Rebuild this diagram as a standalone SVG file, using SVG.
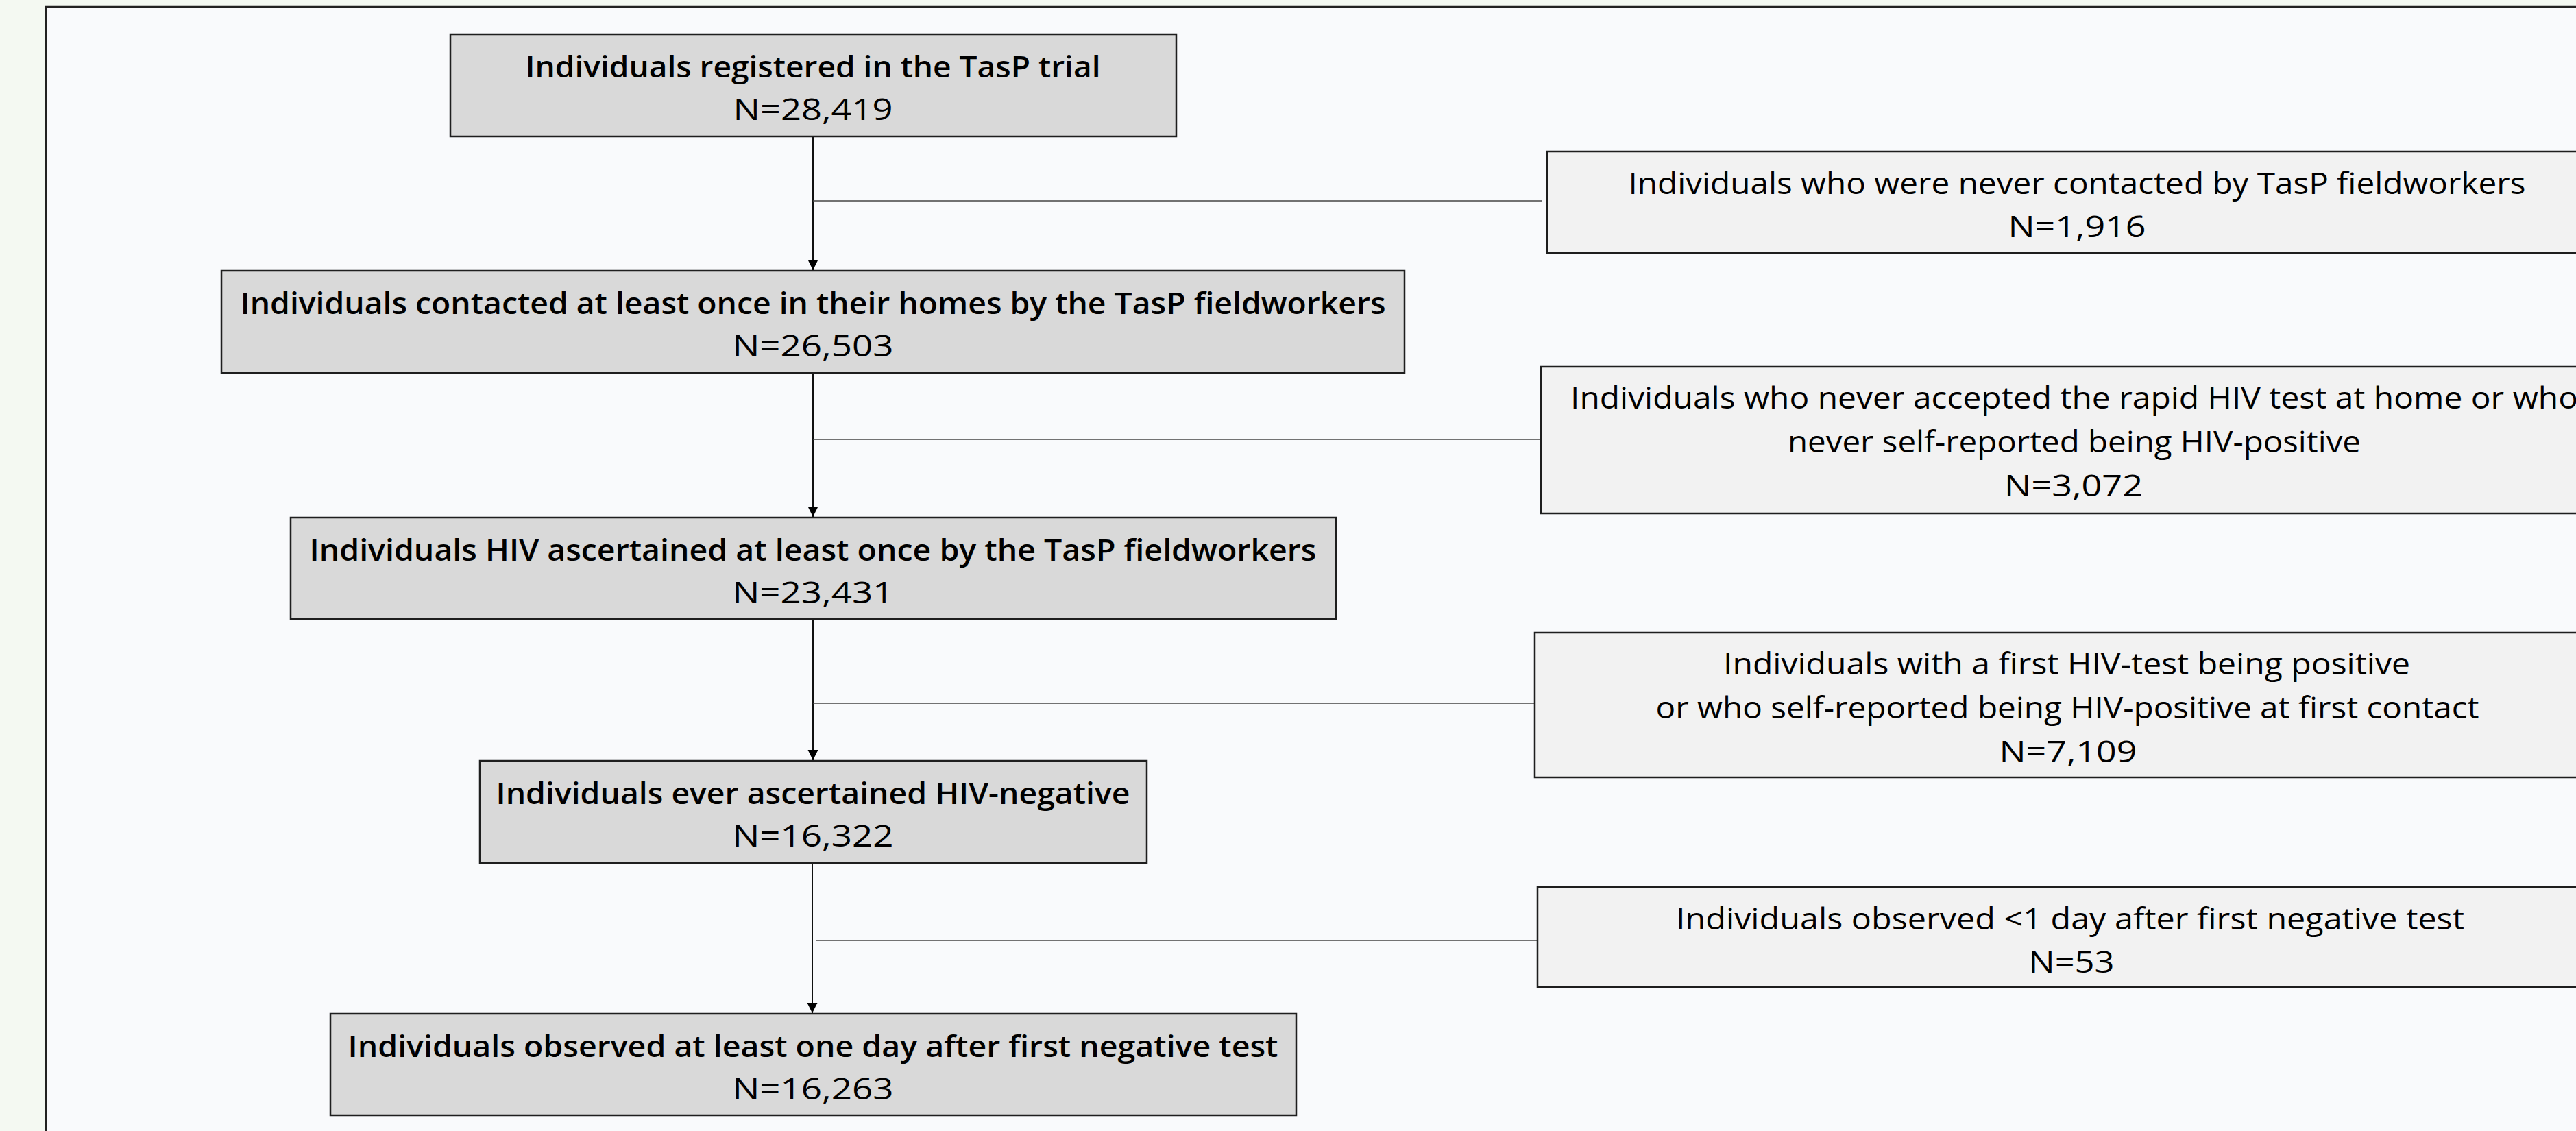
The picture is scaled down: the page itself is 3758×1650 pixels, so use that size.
<svg xmlns="http://www.w3.org/2000/svg" width="3758" height="1650" viewBox="0 0 3758 1650">
<style>
.main{fill:#d9d9d9;stroke:#1e1e1e;stroke-width:2.5}
.side{fill:#f2f2f2;stroke:#1e1e1e;stroke-width:2.5}
.tm{font-family:"Open Sans","DejaVu Sans",sans-serif;font-size:43px;font-weight:600;fill:#000;text-anchor:middle}
.ts{font-family:"Open Sans","DejaVu Sans",sans-serif;font-size:43px;font-weight:400;fill:#000;text-anchor:middle}
.v{stroke:#111;stroke-width:2;fill:none}
.h{stroke:#444;stroke-width:1.6;fill:none}
</style>
<defs>
<marker id="arr" markerUnits="userSpaceOnUse" markerWidth="16" markerHeight="16" refX="15" refY="7.5" orient="auto">
<path d="M0,0 L15,7.5 L0,15 z" fill="#000"/>
</marker>
</defs>
<rect x="0" y="0" width="3758" height="1650" fill="#f4f9f2"/>
<rect x="67" y="10" width="3760" height="1700" fill="#f9fafc" stroke="#222" stroke-width="2.5"/>

<g id="connectors">
<line class="v" x1="1186" y1="199" x2="1186" y2="394" marker-end="url(#arr)"/>
<line class="v" x1="1186" y1="544" x2="1186" y2="754" marker-end="url(#arr)"/>
<line class="v" x1="1186" y1="903" x2="1186" y2="1109" marker-end="url(#arr)"/>
<line class="v" x1="1185" y1="1259" x2="1185" y2="1478" marker-end="url(#arr)"/>
<line class="h" x1="1186" y1="293" x2="2249" y2="293"/>
<line class="h" x1="1186" y1="641" x2="2248" y2="641"/>
<line class="h" x1="1186" y1="1026" x2="2239" y2="1026"/>
<line class="h" x1="1191" y1="1372" x2="2243" y2="1372"/>
</g>

<g id="n1">
<rect class="main" x="657" y="50" width="1059" height="149"/>
<text class="tm" x="1186" y="113" textLength="839" lengthAdjust="spacingAndGlyphs">Individuals registered in the TasP trial</text>
<text class="ts" x="1186" y="175" textLength="233" lengthAdjust="spacingAndGlyphs">N=28,419</text>
</g>
<g id="n2">
<rect class="main" x="323" y="395" width="1726" height="149"/>
<text class="tm" x="1186" y="458" textLength="1671" lengthAdjust="spacingAndGlyphs">Individuals contacted at least once in their homes by the TasP fieldworkers</text>
<text class="ts" x="1186" y="520" textLength="235" lengthAdjust="spacingAndGlyphs">N=26,503</text>
</g>
<g id="n3">
<rect class="main" x="424" y="755" width="1525" height="148"/>
<text class="tm" x="1186" y="818" textLength="1469" lengthAdjust="spacingAndGlyphs">Individuals HIV ascertained at least once by the TasP fieldworkers</text>
<text class="ts" x="1186" y="880" textLength="235" lengthAdjust="spacingAndGlyphs">N=23,431</text>
</g>
<g id="n4">
<rect class="main" x="700" y="1110" width="973" height="149"/>
<text class="tm" x="1186" y="1173" textLength="925" lengthAdjust="spacingAndGlyphs">Individuals ever ascertained HIV-negative</text>
<text class="ts" x="1186" y="1235" textLength="235" lengthAdjust="spacingAndGlyphs">N=16,322</text>
</g>
<g id="n5">
<rect class="main" x="482" y="1479" width="1409" height="148"/>
<text class="tm" x="1186" y="1542" textLength="1357" lengthAdjust="spacingAndGlyphs">Individuals observed at least one day after first negative test</text>
<text class="ts" x="1186" y="1604" textLength="235" lengthAdjust="spacingAndGlyphs">N=16,263</text>
</g>

<g id="r1">
<rect class="side" x="2257" y="221" width="1546" height="148"/>
<text class="ts" x="3030" y="283" textLength="1309" lengthAdjust="spacingAndGlyphs">Individuals who were never contacted by TasP fieldworkers</text>
<text class="ts" x="3030" y="346" textLength="201" lengthAdjust="spacingAndGlyphs">N=1,916</text>
</g>
<g id="r2">
<rect class="side" x="2248" y="535" width="1556" height="214"/>
<text class="ts" x="3026" y="596" textLength="1470" lengthAdjust="spacingAndGlyphs">Individuals who never accepted the rapid HIV test at home or who</text>
<text class="ts" x="3026" y="660" textLength="836" lengthAdjust="spacingAndGlyphs">never self-reported being HIV-positive</text>
<text class="ts" x="3025" y="724" textLength="202" lengthAdjust="spacingAndGlyphs">N=3,072</text>
</g>
<g id="r3">
<rect class="side" x="2239" y="923" width="1554" height="211"/>
<text class="ts" x="3015" y="984" textLength="1002" lengthAdjust="spacingAndGlyphs">Individuals with a first HIV-test being positive</text>
<text class="ts" x="3016" y="1048" textLength="1201" lengthAdjust="spacingAndGlyphs">or who self-reported being HIV-positive at first contact</text>
<text class="ts" x="3017" y="1112" textLength="201" lengthAdjust="spacingAndGlyphs">N=7,109</text>
</g>
<g id="r4">
<rect class="side" x="2243" y="1294" width="1554" height="146"/>
<text class="ts" x="3020" y="1356" textLength="1150" lengthAdjust="spacingAndGlyphs">Individuals observed &lt;1 day after first negative test</text>
<text class="ts" x="3022" y="1419" textLength="125" lengthAdjust="spacingAndGlyphs">N=53</text>
</g>
</svg>
